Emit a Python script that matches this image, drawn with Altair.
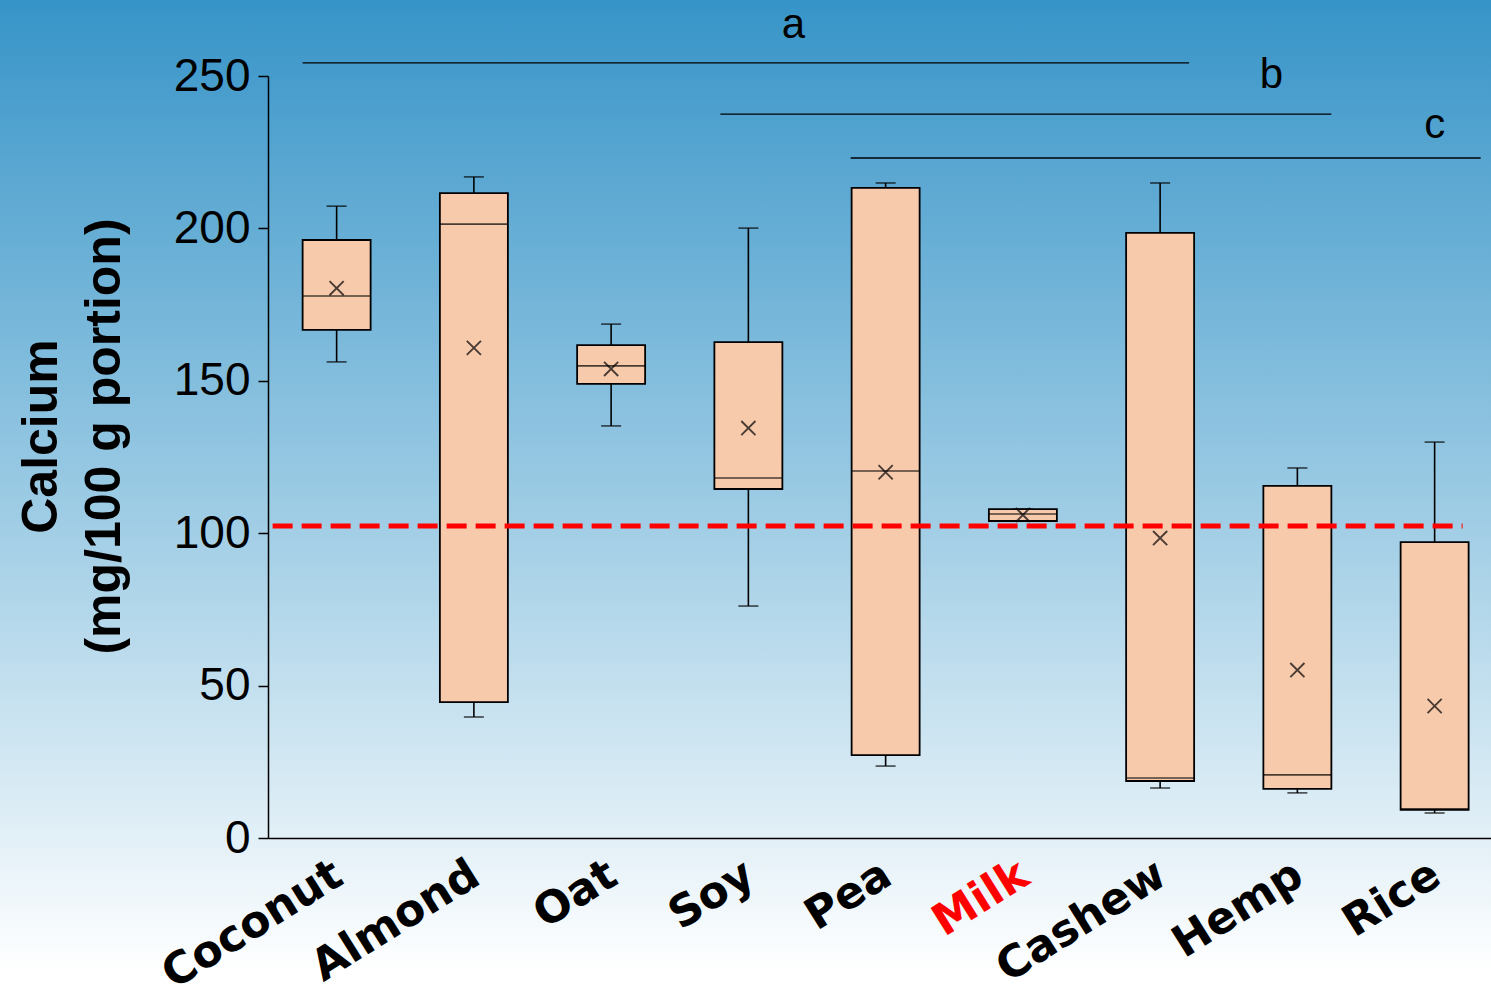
import altair as alt
import pandas as pd

categories = ["Coconut", "Almond", "Oat", "Soy", "Pea", "Milk", "Cashew", "Hemp", "Rice"]
whisker_low = [156.2, 39.7, 135.2, 76.1, 23.6, 104.0, 16.4, 14.8, 8.2]
q1 = [166.7, 44.6, 149.0, 114.5, 27.2, 104.0, 18.7, 16.1, 9.2]
median = [177.8, 201.4, 154.9, 118.1, 120.4, 106.3, 19.7, 20.7, 9.6]
q3 = [196.2, 211.6, 161.7, 162.7, 213.3, 107.9, 198.5, 115.5, 97.1]
whisker_high = [207.3, 216.9, 168.6, 200.1, 214.9, 107.9, 214.9, 121.4, 129.9]
mean = [180.4, 160.8, 153.9, 134.5, 120.0, 106.0, 98.4, 55.1, 43.3]

reference_value = 102.4
y_ticks = [0, 50, 100, 150, 200, 250]

sig_letters = ["a", "b", "c"]
sig_start = ["Coconut", "Soy", "Pea"]
sig_end = ["Cashew", "Hemp", "Rice"]
sig_line_y = [254.3, 237.5, 223.1]
sig_label_cat = ["Soy", "Hemp", "Rice"]
sig_label_y = [262.5, 246.1, 229.7]

W, H = 1223, 762
LEFT, TOP, BOTTOM = 268, 76, 165
STEP = 137.25

df = pd.DataFrame({
    "cat": categories, "wlo": whisker_low, "q1": q1, "med": median,
    "q3": q3, "whi": whisker_high, "mean": mean,
})

xscale = alt.Scale(domain=categories, range=[0, STEP * len(categories)], paddingInner=0, paddingOuter=0)
yscale = alt.Scale(domain=[0, 250], nice=False, zero=True)

x_enc = alt.X("cat:N", scale=xscale, sort=categories, axis=alt.Axis(
    title=None, labelAngle=-32, labelAlign="right", labelBaseline="middle",
    labelFont="DejaVu Sans", labelFontWeight="bold", labelFontSize=44, labelLimit=0,
    labelPadding=33, labelOffset=2, ticks=False, domainColor="black", domainWidth=1.5,
    labelColor=alt.expr("datum.value == 'Milk' ? '#ff0000' : '#000000'"), zindex=1))
y_axis = alt.Axis(
    values=y_ticks, title=["Calcium", "(mg/100 g portion)"], titleFont="Liberation Sans",
    titleFontSize=50, titleFontWeight="bold", titleAngle=-90, titleBaseline="top",
    titleAlign="center", titleX=-252, titleY=360, titleLineHeight=63,
    labelFont="Liberation Sans", labelFontSize=46, labelPadding=8, tickSize=10,
    tickColor="black", tickWidth=1.5, domainColor="black", domainWidth=1.5,
    labelColor="black", grid=False, zindex=1)

base = alt.Chart(df)

bg = alt.Chart(pd.DataFrame({"z": [0]})).mark_rect(
    fill=alt.LinearGradient(
        gradient="linear", x1=0, y1=0, x2=0, y2=1,
        stops=[alt.GradientStop(offset=0, color="#3794c8"),
               alt.GradientStop(offset=0.5, color="#9ccbe4"),
               alt.GradientStop(offset=0.97, color="#ffffff"),
               alt.GradientStop(offset=1, color="#ffffff")])
).encode(x=alt.value(-LEFT), x2=alt.value(W), y=alt.value(-TOP), y2=alt.value(H + BOTTOM))

whisk = base.mark_rule(color="black", strokeWidth=1.6).encode(
    x=x_enc, y=alt.Y("wlo:Q", scale=yscale, axis=y_axis), y2="whi:Q")
caps_lo = base.mark_tick(color="black", size=20, thickness=1.6).encode(x="cat:N", y="wlo:Q")
caps_hi = base.mark_tick(color="black", size=20, thickness=1.6).encode(x="cat:N", y="whi:Q")
box = base.mark_bar(size=68, fill="#f7caac", stroke="black", strokeWidth=1.8).encode(
    x="cat:N", y="q1:Q", y2="q3:Q")
med = base.mark_tick(color="black", size=68, thickness=1.6).encode(x="cat:N", y="med:Q")
mean_pt = base.mark_point(shape="M-1,-1L1,1M1,-1L-1,1", size=200, filled=False,
                          stroke="black", strokeWidth=1.9).encode(x="cat:N", y="mean:Q")

ref = alt.Chart(pd.DataFrame({"s": ["Coconut"], "e": ["Rice"], "v": [reference_value]})).mark_rule(
    color="#ff0000", strokeWidth=5, strokeDash=[20, 9], xOffset=-64, x2Offset=28
).encode(x="s:N", x2="e:N", y="v:Q")

layers = [bg, whisk, caps_lo, caps_hi, box, med, mean_pt, ref]

line_offsets = [(-34, 29), (-28, 34), (-35, 46)]
label_dx = [45, -26, 0]
for i in range(3):
    d = pd.DataFrame({"s": [sig_start[i]], "e": [sig_end[i]], "v": [sig_line_y[i]],
                      "lc": [sig_label_cat[i]], "lv": [sig_label_y[i]], "t": [sig_letters[i]]})
    layers.append(alt.Chart(d).mark_rule(color="black", strokeWidth=1.3,
                                         xOffset=line_offsets[i][0], x2Offset=line_offsets[i][1]).encode(
        x="s:N", x2="e:N", y="v:Q"))
    layers.append(alt.Chart(d).mark_text(font="Liberation Sans", fontSize=42, color="black",
                                         dx=label_dx[i], baseline="alphabetic").encode(
        x="lc:N", y="lv:Q", text="t:N"))

chart = alt.layer(*layers).properties(
    width=W, height=H,
    autosize=alt.AutoSizeParams(type="none"),
    padding={"left": LEFT, "top": TOP, "right": 0, "bottom": BOTTOM},
    background="#ffffff",
).configure_view(stroke=None)

chart.save("out.html", embed_options={"renderer": "svg", "actions": False})
